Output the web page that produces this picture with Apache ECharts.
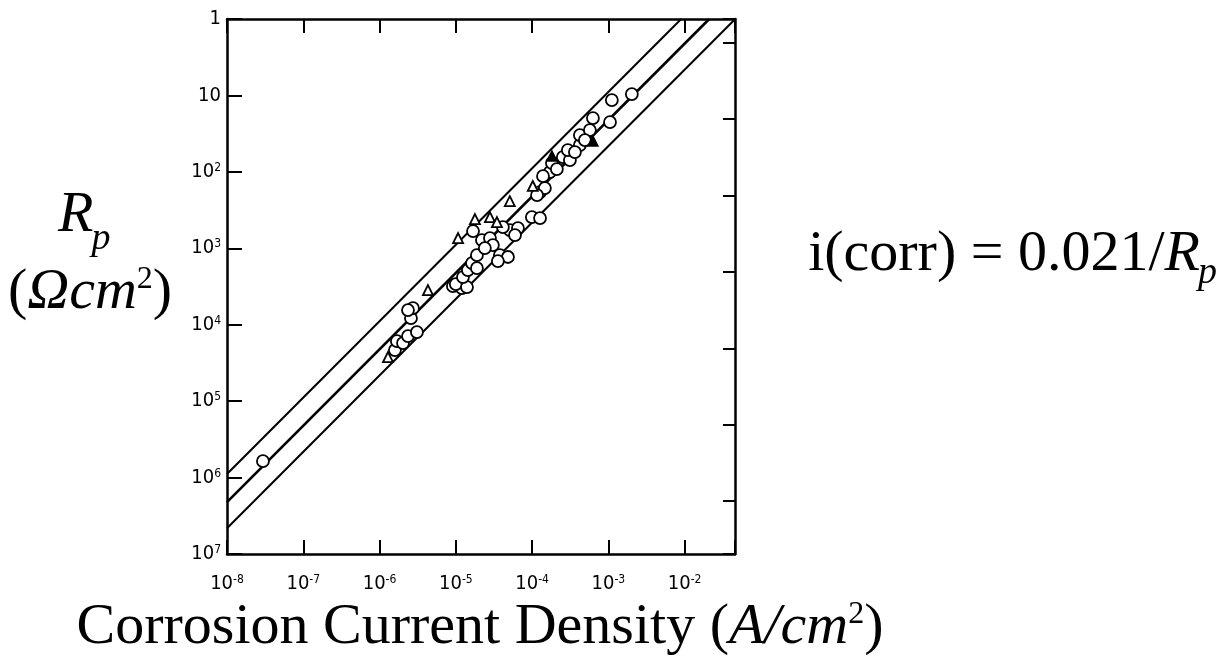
<!DOCTYPE html>
<html><head><meta charset="utf-8">
<script src="https://cdn.jsdelivr.net/npm/echarts@6/dist/echarts.min.js"></script>
<style>html,body{margin:0;padding:0;background:#fff}#c{width:1225px;height:668px}</style>
</head><body><div id="c"></div>
<script>
// Corrosion current density i (A/cm^2) and polarisation resistance Rp (ohm cm^2)
const circleI = [2.96e-8, 1.59e-6, 1.69e-6, 2.03e-6, 2.36e-6, 3.09e-6, 2.58e-6, 2.74e-6, 2.36e-6, 9.16e-6,
  1.20e-5, 1.00e-5, 1.40e-5, 1.24e-5, 1.44e-5, 1.63e-5, 1.89e-5, 1.68e-5, 2.20e-5, 2.80e-5,
  3.06e-5, 2.40e-5, 1.89e-5, 3.78e-5, 4.82e-5, 3.56e-5, 5.12e-5, 6.52e-5, 9.93e-5, 1.27e-4,
  4.14e-5, 5.96e-5, 1.27e-4, 1.47e-4, 1.16e-4, 1.71e-4, 1.82e-4, 2.11e-4, 1.39e-4, 2.53e-4,
  3.13e-4, 2.94e-4, 4.23e-4, 4.23e-4, 5.72e-4, 6.27e-4, 1.05e-3, 1.11e-3, 2.03e-3, 3.64e-4, 4.92e-4];
const circleRp = [6.10e5, 2.15e4, 1.64e4, 1.74e4, 1.41e4, 1.25e4, 8.2e3, 6.07e3, 6.44e3, 3.13e3,
  3.32e3, 2.94e3, 3.22e3, 2.38e3, 1.93e3, 1.56e3, 1.23e3, 596, 781, 735,
  908, 994, 1.82e3, 1.23e3, 1.30e3, 1.47e3, 578, 544, 391, 403,
  528, 672, 184, 163, 201, 101, 76.7, 91.9, 114, 64.0,
  70.1, 51.9, 44.6, 33.0, 28.4, 19.8, 22.3, 11.5, 9.59, 55.1, 38.4];
const triI  = [1.29e-6, 4.31e-6, 1.07e-5, 1.78e-5, 2.80e-5, 3.46e-5, 5.1e-5, 1.02e-4];
const triRp = [2.65e4, 3.52e3, 735, 415, 391, 454, 242, 153];
const solidTriI  = [1.82e-4, 6.27e-4];
const solidTriRp = [62.1, 39.5];
// i * Rp constants of the three guide lines (middle one: i(corr) = 0.021 / Rp)
const lineK = [0.009, 0.021, 0.046];
const X_MIN = 1e-8, X_MAX = 0.0457;
const Y_MIN = 1, Y_MAX = 1e7;
const RIGHT_MIN = 0.49, RIGHT_MAX = 4.9e6;

const pair = (xs, ys) => xs.map((v, k) => [v, ys[k]]);
const decade = v => { const e = Math.log10(v); const r = Math.round(e); return Math.abs(e - r) < 1e-6 ? r : null; };
const labelFont = '"Liberation Sans Narrow", "DejaVu Sans Condensed", "Liberation Sans", sans-serif';
const labelRich = {
  b: { fontSize: 20, lineHeight: 20, fontFamily: labelFont, color: '#000' },
  s: { fontSize: 12, lineHeight: 12, fontFamily: labelFont, color: '#000', verticalAlign: 'top' }
};
const axisLine = { show: true, lineStyle: { color: '#000', width: 2.5 } };
const tick = len => ({ show: true, inside: true, length: len, lineStyle: { color: '#000', width: 2 } });

// text placement helpers (baseline-based)
const serif = '"Liberation Serif", "DejaVu Serif", serif';
const mctx = document.createElement('canvas').getContext('2d');
const tw = (s, font) => { mctx.font = font; return mctx.measureText(s).width; };
const txt = (s, font, x, baseline, size) => ({ type: 'text', x: x, y: baseline - 0.3 * size,
  style: { text: s, font: font, fill: '#000', align: 'left', verticalAlign: 'middle' } });

const F = 58, FS = 38;
const up = F + 'px ' + serif, it = 'italic ' + F + 'px ' + serif, sub = 'italic ' + FS + 'px ' + serif;

// left axis title  R_p
const rX = 58, rBase = 233;
const rW = tw('R', it);
// equation  i(corr) = 0.021/R_p , right end at 1219
const eqA = 'i(corr) = 0.021/';
const eqW = tw(eqA, up) + tw('R', it) + tw('p', sub);
const eqX = 1219 - eqW, eqBase = 272;

const chart = echarts.init(document.getElementById('c'), null, { renderer: 'canvas' });
chart.setOption({
  animation: false,
  backgroundColor: '#fff',
  grid: { left: 227, top: 19, width: 508, height: 535, outerBoundsMode: 'none' },
  xAxis: [
    { type: 'log', logBase: 10, min: X_MIN, max: X_MAX, position: 'bottom', splitNumber: 7,
      axisLine, axisTick: tick(14), splitLine: { show: false }, minorTick: { show: false },
      axisLabel: { show: true, margin: 20, rich: labelRich,
        formatter: v => { const e = decade(v); return e === null ? '' : '{b|10}{s|' + e + '}'; } } },
    { type: 'log', logBase: 10, min: X_MIN, max: X_MAX, position: 'top', splitNumber: 7,
      axisLine, axisTick: tick(14), splitLine: { show: false }, axisLabel: { show: false } }
  ],
  yAxis: [
    { type: 'log', logBase: 10, min: Y_MIN, max: Y_MAX, inverse: true, position: 'left', splitNumber: 7,
      axisLine, axisTick: tick(15), splitLine: { show: false },
      axisLabel: { show: true, margin: 6, rich: labelRich,
        formatter: v => { const e = decade(v); if (e === null) return ''; if (e === 0) return '{b|1}'; if (e === 1) return '{b|10}'; return '{b|10}{s|' + e + '}'; } } },
    { type: 'log', logBase: 10, min: RIGHT_MIN, max: RIGHT_MAX, inverse: true, position: 'right', splitNumber: 7,
      axisLine, axisTick: tick(12), splitLine: { show: false }, axisLabel: { show: false } }
  ],
  series: [
    ...lineK.map((k, n) => ({
      type: 'line', xAxisIndex: 0, yAxisIndex: 0, symbol: 'none', silent: true, z: 2,
      lineStyle: { color: '#000', width: n === 1 ? 2.6 : 2 },
      data: [[X_MIN, k / X_MIN], [k, 1]]
    })),
    { type: 'scatter', xAxisIndex: 0, yAxisIndex: 0, symbol: 'circle', symbolSize: 12, z: 3,
      itemStyle: { color: '#ffffff', opacity: 1, borderColor: '#000', borderWidth: 1.8 }, data: pair(circleI, circleRp) },
    { type: 'scatter', xAxisIndex: 0, yAxisIndex: 0, symbol: 'triangle', symbolSize: 10, z: 4,
      itemStyle: { color: '#ffffff', opacity: 1, borderColor: '#000', borderWidth: 1.8 }, data: pair(triI, triRp) },
    { type: 'scatter', xAxisIndex: 0, yAxisIndex: 0, symbol: 'triangle', symbolSize: 10, z: 4,
      itemStyle: { color: '#000', opacity: 1, borderColor: '#000', borderWidth: 1.5 }, data: pair(solidTriI, solidTriRp) }
  ],
  graphic: [
    txt('R', it, rX, rBase, F),
    txt('p', sub, rX + rW - 2, rBase + 17, FS),
    { type: 'text', x: 90, y: 293, style: { text: '{a|(}{i|Ωcm}{s|2}{a|)}', verticalAlign: 'middle', align: 'center',
      rich: { a: { font: up, fill: '#000', lineHeight: 58 },
              i: { font: it, fill: '#000', lineHeight: 58 },
              s: { font: '32px ' + serif, fill: '#000', lineHeight: 32, verticalAlign: 'top' } } } },
    txt(eqA, up, eqX, eqBase, F),
    txt('R', it, eqX + tw(eqA, up), eqBase, F),
    txt('p', sub, eqX + tw(eqA, up) + tw('R', it) - 2, eqBase + 12, FS),
    { type: 'text', x: 480, y: 628, style: { text: '{a|Corrosion Current Density (}{i|A/cm}{s|2}{a|)}', verticalAlign: 'middle', align: 'center',
      rich: { a: { font: up, fill: '#000', lineHeight: 58 },
              i: { font: it, fill: '#000', lineHeight: 58 },
              s: { font: '32px ' + serif, fill: '#000', lineHeight: 32, verticalAlign: 'top' } } } }
  ]
});
</script>
</body></html>
